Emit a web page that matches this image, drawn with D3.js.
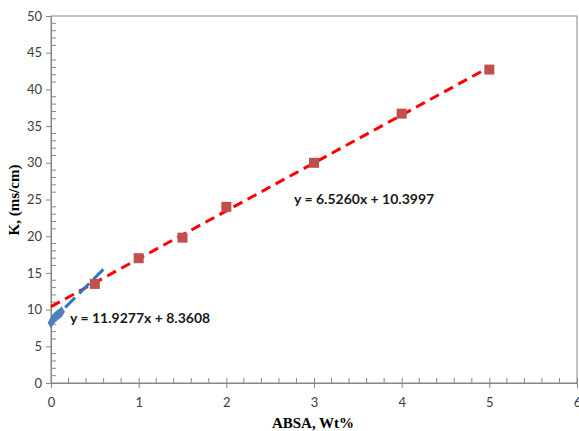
<!DOCTYPE html>
<html><head><meta charset="utf-8">
<script src="https://cdn.jsdelivr.net/npm/d3@7"></script>
<style>body{margin:0;background:#fff;} svg{display:block;}</style>
</head><body>
<svg id="c" width="579" height="431"></svg>
<script>
const redX = [0.5, 1, 1.5, 2, 3, 4, 5];
const redY = [13.5, 17.0, 19.8, 24.0, 30.0, 36.7, 42.7];
const blueX = [0, 0.02, 0.04, 0.06, 0.08, 0.1, 0.12];
const blueY = [8.2, 8.6, 8.9, 9.1, 9.3, 9.5, 9.7];
const redFit = [6.5260, 10.3997];
const blueFit = [11.9277, 8.3608];
const xTicks = [0, 1, 2, 3, 4, 5, 6];
const yTicks = [0, 5, 10, 15, 20, 25, 30, 35, 40, 45, 50];

const svg = d3.select("#c");
const x = d3.scaleLinear().domain([0, 6]).range([51, 577]);
const y = d3.scaleLinear().domain([0, 50]).range([383, 16]);

// frame
svg.append("rect").attr("x", 51).attr("y", 16).attr("width", 526).attr("height", 367)
  .attr("fill", "none").attr("stroke", "#868686").attr("stroke-width", 1);

// minor ticks
const yMinor = d3.range(0, 51, 1).filter(v => v % 5 !== 0);
svg.append("g").selectAll("line").data(yMinor).join("line")
  .attr("x1", 51).attr("x2", 56).attr("y1", d => y(d)).attr("y2", d => y(d))
  .attr("stroke", "#868686");
const xMinor = d3.range(0, 30).map(i => i * 0.2).filter((v, i) => i % 5 !== 0);
svg.append("g").selectAll("line").data(xMinor).join("line")
  .attr("x1", d => x(d)).attr("x2", d => x(d)).attr("y1", 383).attr("y2", 378)
  .attr("stroke", "#868686");

const fmt = d3.format("d");
const yAxis = svg.append("g").attr("transform", "translate(51,0)")
  .call(d3.axisLeft(y).tickValues(yTicks).tickFormat(fmt).tickSize(5).tickPadding(4));
const xAxis = svg.append("g").attr("transform", "translate(0,383)")
  .call(d3.axisBottom(x).tickValues(xTicks).tickFormat(fmt).tickSize(5).tickPadding(10));
[yAxis, xAxis].forEach(a => {
  a.select(".domain").attr("stroke", "#868686");
  a.selectAll(".tick line").attr("stroke", "#868686");
  a.selectAll("text").attr("fill", "#404040").attr("font-family", "Lato, 'Open Sans', sans-serif").attr("font-size", 13);
});
xAxis.selectAll(".tick line").attr("y1", -5);

// trend lines
const line = d3.line().x(d => x(d[0])).y(d => y(d[1]));
svg.append("path").datum([[0, redFit[1]], [5, redFit[0] * 5 + redFit[1]]])
  .attr("d", line).attr("stroke", "#FF0000").attr("stroke-width", 3)
  .attr("stroke-dasharray", "10,6").attr("fill", "none");
svg.append("path").datum([[0, blueFit[1]], [0.6, blueFit[0] * 0.6 + blueFit[1]]])
  .attr("d", line).attr("stroke", "#2E75C6").attr("stroke-width", 3)
  .attr("stroke-dasharray", "14,6").attr("fill", "none");

// markers
svg.append("g").selectAll("rect").data(redX.map((v, i) => [v, redY[i]])).join("rect")
  .attr("x", d => x(d[0]) - 5).attr("y", d => y(d[1]) - 5).attr("width", 10).attr("height", 10)
  .attr("fill", "#C0504D");
svg.append("g").selectAll("path").data(blueX.map((v, i) => [v, blueY[i]])).join("path")
  .attr("d", d3.symbol().type(d3.symbolDiamond).size(40))
  .attr("transform", d => `translate(${x(d[0])},${y(d[1])})`)
  .attr("fill", "#4F81BD");

// equations
svg.append("text").attr("x", 70).attr("y", 323).text("y = 11.9277x + 8.3608")
  .attr("font-family", "Lato, 'Open Sans', sans-serif").attr("font-weight", "bold").attr("font-size", 14).attr("fill", "#1a1a1a");
svg.append("text").attr("x", 294).attr("y", 204).text("y = 6.5260x + 10.3997")
  .attr("font-family", "Lato, 'Open Sans', sans-serif").attr("font-weight", "bold").attr("font-size", 14).attr("fill", "#1a1a1a");

// axis titles
svg.append("text").attr("x", 313).attr("y", 428).attr("text-anchor", "middle").text("ABSA, Wt%")
  .attr("font-family", "'Liberation Serif', 'Times New Roman', serif").attr("font-weight", "bold").attr("font-size", 15);
svg.append("text").attr("transform", "translate(19,200) rotate(-90)").attr("text-anchor", "middle").text("K, (ms/cm)")
  .attr("font-family", "'Liberation Serif', 'Times New Roman', serif").attr("font-weight", "bold").attr("font-size", 15);
</script>
</body></html>
